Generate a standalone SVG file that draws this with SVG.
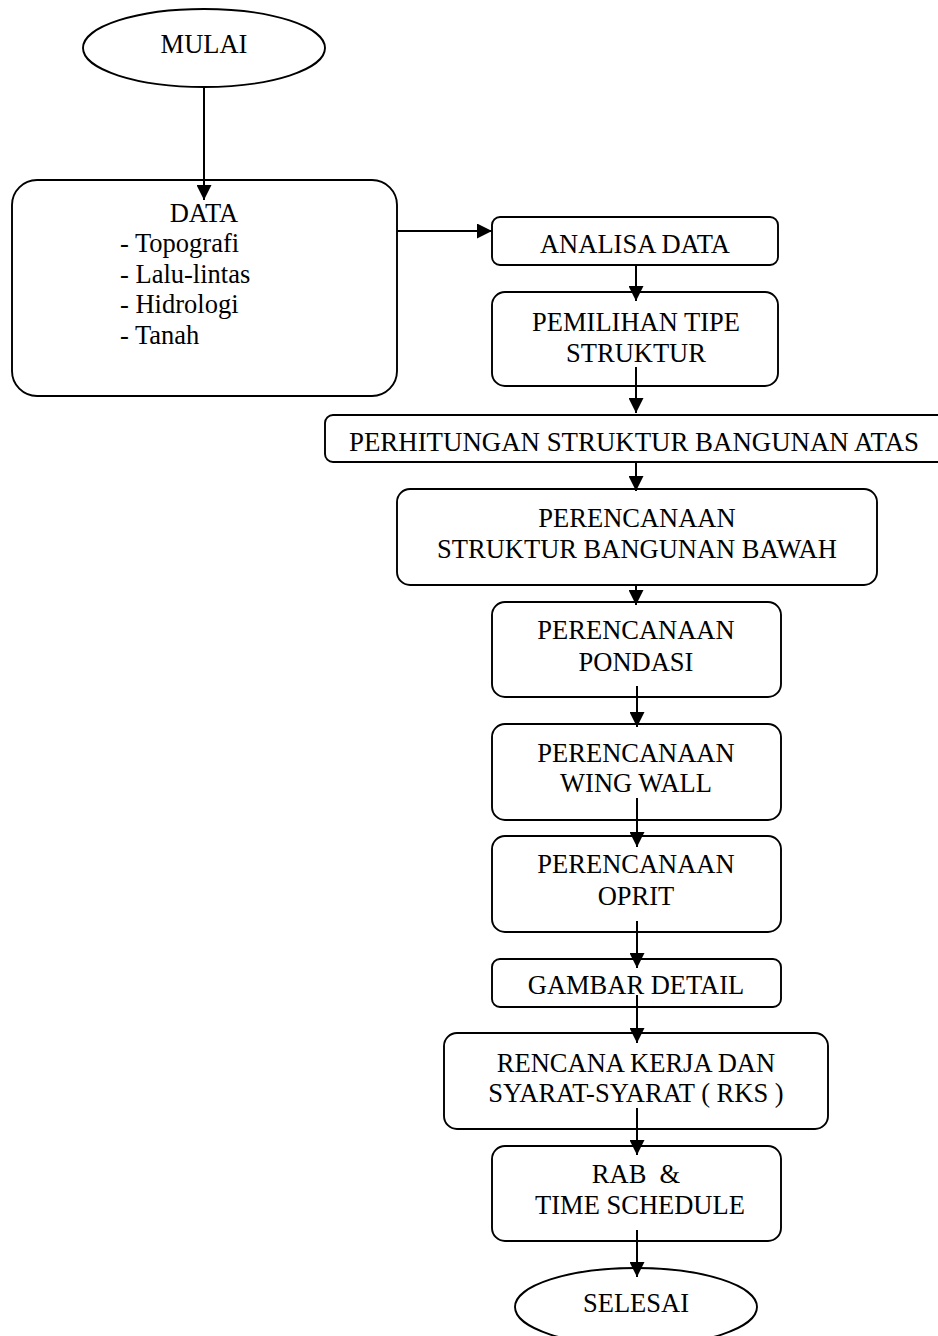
<svg xmlns="http://www.w3.org/2000/svg" width="938" height="1336" viewBox="0 0 938 1336">
<style>
.box{fill:#fff;stroke:#000;stroke-width:1.9}
text{font-family:'Liberation Serif','Tinos','DejaVu Serif',serif;font-size:26.5px;fill:#000}
.t{text-anchor:middle}
.tl{text-anchor:start}
.c{stroke:#000;stroke-width:2;fill:none;marker-end:url(#ah)}
</style>
<defs>
<marker id="ah" viewBox="0 0 15 15" refX="15" refY="7.5" markerWidth="15" markerHeight="15" markerUnits="userSpaceOnUse" orient="auto">
<path d="M0,0 L15,7.5 L0,15 z" fill="#000"/>
</marker>
</defs>
<rect width="938" height="1336" fill="#fff"/>
<g id="mulai">
<ellipse class="box" cx="204" cy="48" rx="121" ry="39"/>
<text class="t" x="204" y="53">MULAI</text>
</g>
<g id="data">
<rect class="box" x="12" y="180" width="385" height="216" rx="25"/>
<text class="t" x="204" y="222">DATA</text>
<text class="tl" x="120" y="252">- Topografi</text>
<text class="tl" x="120" y="283">- Lalu-lintas</text>
<text class="tl" x="120" y="313">- Hidrologi</text>
<text class="tl" x="120" y="344">- Tanah</text>
</g>
<g id="analisa">
<rect class="box" x="492" y="217" width="286" height="48" rx="8"/>
<text class="t" x="635" y="253">ANALISA DATA</text>
</g>
<g id="pemilihan">
<rect class="box" x="492" y="292" width="286" height="94" rx="13"/>
<text class="t" x="636" y="331">PEMILIHAN TIPE</text>
<text class="t" x="636" y="362">STRUKTUR</text>
</g>
<g id="perhitungan">
<rect class="box" x="325" y="415" width="620" height="47" rx="8"/>
<text class="t" x="634" y="451" textLength="570" lengthAdjust="spacingAndGlyphs">PERHITUNGAN STRUKTUR BANGUNAN ATAS</text>
</g>
<g id="bawah">
<rect class="box" x="397" y="489" width="480" height="96" rx="13"/>
<text class="t" x="637" y="527">PERENCANAAN</text>
<text class="t" x="637" y="558">STRUKTUR BANGUNAN BAWAH</text>
</g>
<g id="pondasi">
<rect class="box" x="492" y="602" width="289" height="95" rx="13"/>
<text class="t" x="636" y="639">PERENCANAAN</text>
<text class="t" x="636" y="671">PONDASI</text>
</g>
<g id="wingwall">
<rect class="box" x="492" y="724" width="289" height="96" rx="13"/>
<text class="t" x="636" y="762">PERENCANAAN</text>
<text class="t" x="636" y="792">WING WALL</text>
</g>
<g id="oprit">
<rect class="box" x="492" y="836" width="289" height="96" rx="13"/>
<text class="t" x="636" y="873">PERENCANAAN</text>
<text class="t" x="636" y="905">OPRIT</text>
</g>
<g id="gambar">
<rect class="box" x="492" y="959" width="289" height="48" rx="8"/>
<text class="t" x="636" y="994">GAMBAR DETAIL</text>
</g>
<g id="rks">
<rect class="box" x="444" y="1033" width="384" height="96" rx="13"/>
<text class="t" x="636" y="1072">RENCANA KERJA DAN</text>
<text class="t" x="636" y="1102">SYARAT-SYARAT ( RKS )</text>
</g>
<g id="rab">
<rect class="box" x="492" y="1146" width="289" height="95" rx="13"/>
<text class="t" x="636" y="1183" style="white-space:pre">RAB  &amp;</text>
<text class="t" x="640" y="1214">TIME SCHEDULE</text>
</g>
<g id="selesai">
<ellipse class="box" cx="636" cy="1307" rx="121" ry="39"/>
<text class="t" x="636" y="1312">SELESAI</text>
</g>
<g id="connectors">
<line class="c" x1="204" y1="87" x2="204" y2="200"/>
<line class="c" x1="397" y1="231" x2="492" y2="231"/>
<line class="c" x1="636" y1="265" x2="636" y2="301"/>
<line class="c" x1="636" y1="367" x2="636" y2="413"/>
<line class="c" x1="636" y1="462" x2="636" y2="491"/>
<line class="c" x1="636" y1="585" x2="636" y2="605"/>
<line class="c" x1="637" y1="686" x2="637" y2="727"/>
<line class="c" x1="637" y1="798" x2="637" y2="847"/>
<line class="c" x1="637" y1="921" x2="637" y2="968"/>
<line class="c" x1="637" y1="995" x2="637" y2="1043"/>
<line class="c" x1="637" y1="1108" x2="637" y2="1155"/>
<line class="c" x1="637" y1="1230" x2="637" y2="1277"/>
</g>
</svg>
